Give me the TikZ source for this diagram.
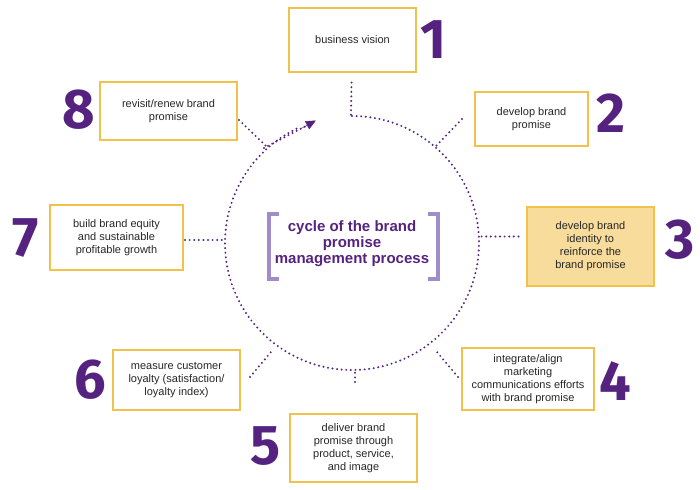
\documentclass[tikz,border=0pt]{standalone}
\usepackage{fontspec}
\setmainfont{Liberation Sans}
\newfontfamily\numfont{Fira Sans}
\usetikzlibrary{arrows.meta}
\definecolor{pur}{HTML}{55237F}
\definecolor{gold}{HTML}{F0C24B}
\definecolor{lpur}{HTML}{A08CC8}
\definecolor{fillg}{HTML}{F8DC9C}
\begin{document}
\begin{tikzpicture}[x=1pt,y=-1pt,
 box/.style={draw=gold,line width=1.2pt,align=center,font=\fontsize{11}{13}\selectfont,text=black!85,inner sep=0pt},
 num/.style={text=pur,font=\numfont\bfseries\fontsize{56}{56}\selectfont},
 dot/.style={pur,line width=2.2pt,line cap=round,dash pattern=on 0pt off 4.6pt}]
\useasboundingbox (0,0) rectangle (700,489);
\node[box,minimum width=127,minimum height=64] (b1) at (352.5,40) {business vision};
\node[box,minimum width=113,minimum height=54] (b2) at (531.5,119) {develop brand\\promise};
\node[box,fill=fillg,minimum width=127,minimum height=79] (b3) at (590.5,246.5) {develop brand\\identity to\\reinforce the\\brand promise};
\node[box,minimum width=132,minimum height=62] (b4) at (528,379) {integrate/align\\marketing\\communications efforts\\with brand promise};
\node[box,minimum width=127,minimum height=68] (b5) at (353.5,448) {deliver brand\\promise through\\product, service,\\and image};
\node[box,minimum width=127,minimum height=60] (b6) at (176.5,380) {measure customer\\loyalty (satisfaction/\\loyalty index)};
\node[box,minimum width=133,minimum height=65] (b7) at (116.5,237.5) {build brand equity\\and sustainable\\profitable growth};
\node[box,minimum width=137,minimum height=58] (b8) at (168.5,111) {revisit/renew brand\\promise};
\node[num] (n1) at (433,40) {1};
\node[num] (n2) at (611,113) {2};
\node[num] (n3) at (680,240) {3};
\node[num] (n4) at (615,381) {4};
\node[num] (n5) at (266,446) {5};
\node[num] (n6) at (90,380) {6};
\node[num] (n7) at (26,238) {7};
\node[num] (n8) at (79,110) {8};
\coordinate (c) at (352,243);
\draw[dot] (352,116) arc[start angle=-90,end angle=245,radius=127];
\draw[dot] (264,148) -- (306,126);
\coordinate (a0) at (300,129);
\coordinate (a1) at (315,121);
\draw[pur,-{Triangle[length=10pt,width=9pt]},line width=0.5pt,shorten >=-1pt] (a0) -- (a1);
\draw[dot] (b1.south) ++(-1,10) -- (351,116);
\draw[dot] (462,119) -- (436,146);
\draw[dot] (b3.west) ++(-8,-10) coordinate (p3) -- (479,236.5);
\draw[dot] (458,377) -- (437,352);
\draw[dot] (355,382) -- (355,370);
\draw[dot] (250,377) -- (271,352);
\draw[dot] (185,240) -- (225,240);
\draw[dot] (239,120) -- (266,146);
\node[text=pur,align=center,font=\bfseries\fontsize{15}{16}\selectfont] (t) at (352,244) {cycle of the brand\\promise\\management process};
\draw[lpur,line width=4pt] (279,214) -- (269,214) -- (269,279) -- (279,279);
\draw[lpur,line width=4pt] (428,214) -- (438,214) -- (438,279) -- (428,279);
\end{tikzpicture}
\end{document}
